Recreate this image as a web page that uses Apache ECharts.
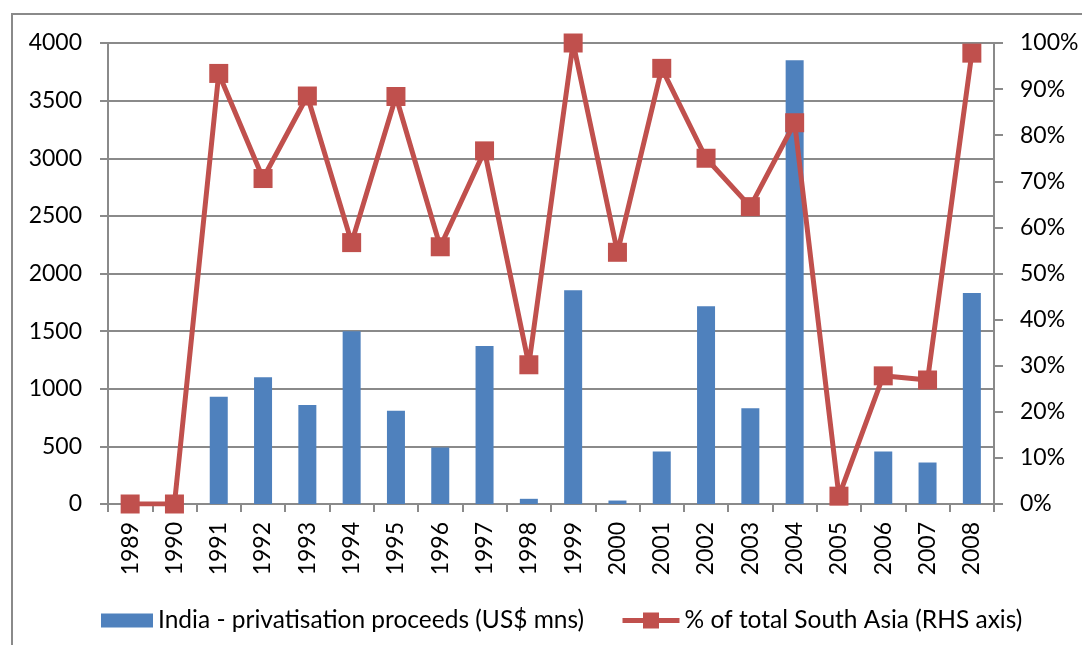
<!DOCTYPE html>
<html>
<head>
<meta charset="utf-8">
<script src="https://cdn.jsdelivr.net/npm/echarts@6/dist/echarts.min.js"></script>
<style>
  html, body { margin: 0; padding: 0; background: #fff; }
  #chart { width: 1082px; height: 645px; }
</style>
</head>
<body>
<div id="chart"></div>
<script>
// years on the x axis
var years = ['1989','1990','1991','1992','1993','1994','1995','1996','1997','1998',
             '1999','2000','2001','2002','2003','2004','2005','2006','2007','2008'];
// India privatisation proceeds, US$ mns (left axis)
var proceeds = [0, 0, 930, 1100, 860, 1500, 810, 490, 1370, 45,
                1855, 30, 455, 1715, 830, 3850, 0, 455, 360, 1830];
// share of South Asia total (right axis, fraction)
var shareOfSouthAsia = [0, 0, 0.934, 0.706, 0.885, 0.567, 0.884, 0.558, 0.766, 0.302,
                        1.0, 0.546, 0.945, 0.75, 0.645, 0.827, 0.017, 0.278, 0.269, 0.978];

var barName = 'India - privatisation proceeds (US$ mns)';
var lineName = '% of total South Asia (RHS axis)';

var font = 'Lato';
var axisGray = '#8a8a8a';

var myChart = echarts.init(document.getElementById('chart'));

var option = {
  animation: false,
  textStyle: { fontFamily: font },
  graphic: [{
    type: 'rect',
    shape: { x: 12, y: 14, width: 1200, height: 800 },
    style: { fill: 'none', stroke: axisGray, lineWidth: 2 },
    silent: true
  }],
  grid: { left: 108, right: 88, top: 43, bottom: 141 },
  legend: [{
    left: 101, top: 608, padding: 0,
    icon: 'rect',
    itemWidth: 52, itemHeight: 14, itemGap: 6,
    textStyle: { fontFamily: font, fontSize: 24.5, color: '#000' },
    data: [barName]
  }, {
    left: 620, top: 608, padding: 0,
    itemWidth: 57, itemHeight: 20,
    lineStyle: { width: 5 },
    textStyle: { fontFamily: font, fontSize: 24.5, color: '#000' },
    data: [lineName]
  }],
  xAxis: {
    type: 'category',
    data: years,
    boundaryGap: true,
    axisLine: { lineStyle: { color: axisGray, width: 2 } },
    axisTick: { show: true, length: 8, interval: 0, lineStyle: { color: axisGray, width: 2 } },
    axisLabel: { rotate: 90, interval: 0, margin: 18, fontSize: 23, color: '#000', fontFamily: font }
  },
  yAxis: [{
    type: 'value',
    min: 0, max: 4000, interval: 500,
    axisLine: { show: true, lineStyle: { color: axisGray, width: 2 } },
    axisTick: { show: true, length: 8, lineStyle: { color: axisGray, width: 2 } },
    axisLabel: {
      margin: 26, fontSize: 23, color: '#000', fontFamily: font,
      formatter: function (v) { return String(v); }
    },
    splitLine: { lineStyle: { color: axisGray, width: 2 } }
  }, {
    type: 'value',
    min: 0, max: 1, interval: 0.1,
    position: 'right',
    axisLine: { show: true, lineStyle: { color: axisGray, width: 2 } },
    axisTick: { show: true, length: 9, lineStyle: { color: axisGray, width: 2 } },
    axisLabel: {
      margin: 26, fontSize: 23, color: '#000', fontFamily: font,
      formatter: function (v) { return Math.round(v * 100) + '%'; }
    },
    splitLine: { show: false }
  }],
  series: [{
    name: barName,
    type: 'bar',
    data: proceeds,
    barWidth: 18,
    itemStyle: { color: '#4F81BD' },
    z: 2
  }, {
    name: lineName,
    type: 'line',
    yAxisIndex: 1,
    data: shareOfSouthAsia,
    symbol: 'rect',
    symbolSize: 19,
    lineStyle: { color: '#C0504D', width: 5 },
    itemStyle: { color: '#C0504D' },
    z: 3
  }]
};

myChart.setOption(option, true);
</script>
</body>
</html>
